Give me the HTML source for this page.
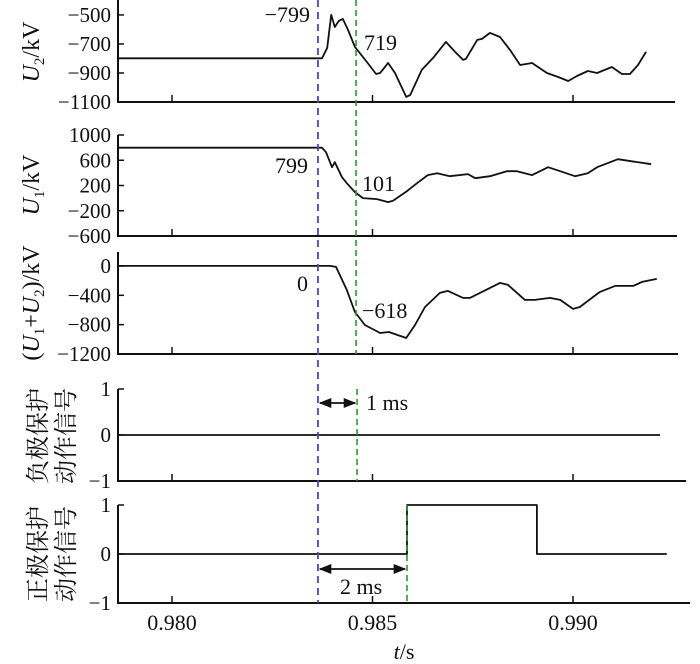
<!DOCTYPE html>
<html><head><meta charset="utf-8"><style>
body{margin:0;background:#fff}
svg{display:block}
text{font-family:"Liberation Serif","Noto Serif CJK SC",serif;fill:#111}
</style></head><body>
<svg id="chart" width="700" height="664" viewBox="0 0 700 664" xmlns="http://www.w3.org/2000/svg">
<defs>
<marker id="ah" viewBox="0 0 10 10" refX="9" refY="5" markerWidth="7" markerHeight="7" orient="auto-start-reverse"><path d="M0,1 L10,5 L0,9 z" fill="#111"/></marker>
</defs>
</svg>
<script>
// time in ms after 0.980 s
const xTicks = [0, 5, 10];
const xTickLabels = ["0.980", "0.985", "0.990"];
const tStart = -1.35;
const faultT = 3.64;
const detectT = 4.59;
const posTripT = 5.86;

const u2T = [-1.35,3.74,3.87,3.97,4.06,4.16,4.26,4.39,4.56,4.86,5.09,5.19,5.39,5.56,5.84,5.94,6.23,6.51,6.83,7.06,7.26,7.33,7.61,7.73,7.93,8.18,8.43,8.68,8.98,9.35,9.63,9.88,10.10,10.37,10.60,10.97,11.22,11.42,11.62,11.82];
const u2V = [-799,-799,-727,-500,-583,-541,-527,-603,-720,-824,-907,-900,-831,-900,-1065,-1052,-879,-796,-686,-755,-810,-803,-672,-665,-624,-652,-741,-845,-831,-900,-928,-955,-921,-886,-900,-859,-907,-907,-845,-755];
const u1T = [-1.35,3.74,3.84,3.99,4.06,4.24,4.36,4.56,4.76,5.11,5.39,5.51,5.86,6.11,6.38,6.61,6.93,7.38,7.56,7.93,8.35,8.60,8.98,9.38,9.68,10.05,10.37,10.60,11.12,11.95];
const u1V = [799,799,727,490,569,332,237,95,0,-16,-63,-40,111,237,364,395,348,380,316,348,427,427,364,490,427,348,395,490,617,538];
const sumT = [-1.35,3.94,4.09,4.36,4.56,4.81,5.19,5.41,5.84,6.06,6.31,6.68,6.88,7.26,7.43,8.18,8.38,8.80,9.05,9.43,9.68,10.00,10.17,10.67,11.05,11.50,11.72,12.09];
const sumV = [0,0,-13,-326,-627,-805,-914,-900,-982,-805,-559,-367,-340,-436,-436,-231,-258,-463,-463,-436,-463,-586,-559,-354,-272,-272,-217,-176];
const negT = [-1.35,12.17];
const negV = [0,0];
const posT = [-1.35,5.86,5.86,9.1,9.1,12.34];
const posV = [0,0,1,1,0,0];

const NS="http://www.w3.org/2000/svg";
const svg=document.getElementById('chart');
function X(t){return 172+t*40.1;}
function mk(tag,attrs,parent){const e=document.createElementNS(NS,tag);for(const k in attrs)e.setAttribute(k,attrs[k]);(parent||svg).appendChild(e);return e;}
function txt(s,x,y,opt,parent){const e=mk('text',Object.assign({x:x,y:y,'font-size':21},opt||{}),parent);e.textContent=s;return e;}

const panels=[
 {name:'u2',top:0,bottom:102,v0:-1100,v1:-397,ticks:[-500,-700,-900,-1100],labels:["\u2212500","\u2212700","\u2212900","\u22121100"],xEnd:675,t:u2T,v:u2V},
 {name:'u1',top:135,bottom:236,v0:-600,v1:1000,ticks:[1000,600,200,-200,-600],labels:["1000","600","200","\u2212200","\u2212600"],xEnd:677,t:u1T,v:u1V},
 {name:'sum',top:252,bottom:354,v0:-1200,v1:190,ticks:[0,-400,-800,-1200],labels:["0","\u2212400","\u2212800","\u22121200"],xEnd:678,t:sumT,v:sumV},
 {name:'neg-signal',top:389,bottom:481,v0:-1,v1:1,ticks:[1,0,-1],labels:["1","0","\u22121"],xEnd:686,t:negT,v:negV},
 {name:'pos-signal',top:505,bottom:603,v0:-1,v1:1,ticks:[1,0,-1],labels:["1","0","\u22121"],xEnd:690,t:posT,v:posV}
];
panels.forEach(p=>{
 const Y=v=>p.bottom-(v-p.v0)/(p.v1-p.v0)*(p.bottom-p.top);
 p.Y=Y;
 const g=mk('g',{});
 
 
 const ax=mk('path',{d:`M118,${p.top} V${p.bottom} H${p.xEnd}`,stroke:'#111','stroke-width':2,fill:'none'},g);
 
 
 p.ticks.forEach((tv,i)=>{
  const yy=Y(tv);
  mk('line',{x1:118,x2:124,y1:yy,y2:yy,stroke:'#111','stroke-width':1.5},g);
  const l=txt(p.labels[i],111,yy+7,{'text-anchor':'end'},g);
  
  
 });
 xTicks.forEach(t=>{mk('line',{x1:X(t),x2:X(t),y1:p.bottom,y2:p.bottom-7,stroke:'#111','stroke-width':1.5},g);});
 const d=p.t.map((t,i)=>(i?'L':'M')+X(t).toFixed(1)+','+Y(p.v[i]).toFixed(1)).join(' ');
 const ln=mk('path',{d:d,stroke:'#111','stroke-width':1.8,fill:'none','stroke-linejoin':'round'},g);
 
 
});
xTicks.forEach((t,i)=>{const l=txt(xTickLabels[i],X(t),630,{'text-anchor':'middle','font-size':22});
 
 });

const b=mk('line',{x1:X(faultT),x2:X(faultT),y1:0,y2:603,stroke:'#4a4ab8','stroke-width':1.8,'stroke-dasharray':'7,5'});


const g1=mk('line',{x1:X(detectT),x2:X(detectT),y1:0,y2:354,stroke:'#2a9a2a','stroke-width':1.6,'stroke-dasharray':'6,4'});


const g2=mk('line',{x1:X(detectT)+1,x2:X(detectT)+1,y1:389,y2:481,stroke:'#2a9a2a','stroke-width':1.6,'stroke-dasharray':'6,4'});


const g3=mk('line',{x1:X(posTripT),x2:X(posTripT),y1:505,y2:603,stroke:'#2a9a2a','stroke-width':1.6,'stroke-dasharray':'6,4'});



const a1=mk('line',{x1:X(faultT)+2,x2:X(detectT)-1,y1:403,y2:403,stroke:'#111','stroke-width':1.8,'marker-start':'url(#ah)','marker-end':'url(#ah)'});


const a2=mk('line',{x1:X(faultT)+2,x2:X(posTripT)-2,y1:569,y2:569,stroke:'#111','stroke-width':1.8,'marker-start':'url(#ah)','marker-end':'url(#ah)'});



[["\u2212799",310,22,'end'],["719",364,50,'start'],["799",308,173,'end'],["101",362,191,'start'],["0",308,291,'end'],["\u2212618",362,318,'start'],["1 ms",366,410,'start'],["2 ms",340,594,'start']].forEach(a=>{
 const l=txt(a[0],a[1],a[2],{'text-anchor':a[3],'font-size':22});
 
 
});

function rot(content,cx,cy,name,size){
 const e=mk('text',{x:0,y:0,'text-anchor':'middle','font-size':size||24,transform:`translate(${cx},${cy}) rotate(-90)`});
 e.innerHTML=content;
 
 
}
rot('<tspan font-style="italic">U</tspan><tspan font-size="15" dy="5">2</tspan><tspan dy="-5">/kV</tspan>',39,52,'u2-axis-title');
rot('<tspan font-style="italic">U</tspan><tspan font-size="15" dy="5">1</tspan><tspan dy="-5">/kV</tspan>',39,185,'u1-axis-title');
rot('(<tspan font-style="italic">U</tspan><tspan font-size="15" dy="5">1</tspan><tspan dy="-5">+</tspan><tspan font-style="italic">U</tspan><tspan font-size="15" dy="5">2</tspan><tspan dy="-5">)/kV</tspan>',39,303,'sum-axis-title');
rot('负极保护',46,436,'neg-axis-title-line1',24);
rot('动作信号',74,436,'neg-axis-title-line2',24);
rot('正极保护',46,554,'pos-axis-title-line1',24);
rot('动作信号',74,554,'pos-axis-title-line2',24);
const xt=mk('text',{x:404,y:659,'text-anchor':'middle','font-size':22});
xt.innerHTML='<tspan font-style="italic">t</tspan>/s';


</script>
</body></html>
